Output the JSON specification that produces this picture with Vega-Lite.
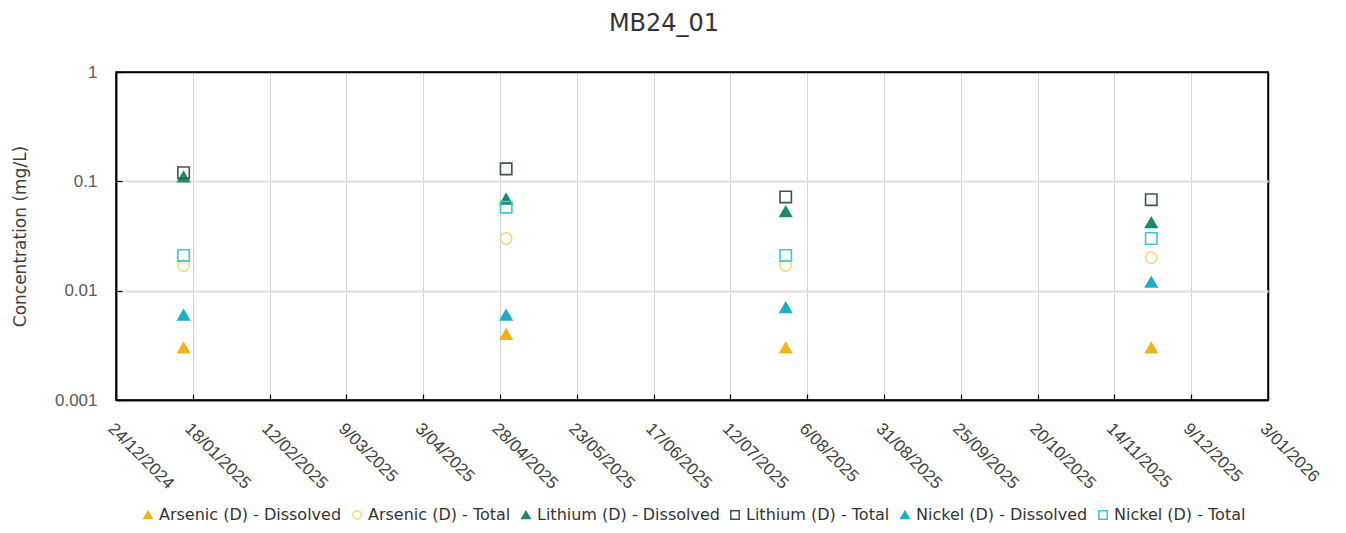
{
  "$schema": "https://vega.github.io/schema/vega-lite/v6.json",
  "autosize": "none",
  "width": 1152,
  "height": 328,
  "padding": {"left": 116, "top": 72, "right": 78, "bottom": 133},
  "background": "white",
  "title": {"text": "MB24_01", "fontSize": 24, "fontWeight": "normal", "font": "DejaVu Sans", "color": "#333333", "anchor": "middle", "frame": "group", "dx": -28, "offset": 27},
  "config": {
    "view": {"stroke": "#000000", "strokeWidth": 1.5},
    "font": "Liberation Sans"
  },
  "data": {
    "values": [
      {"date": "2025-01-15", "series": "Arsenic (D) - Dissolved", "value": 0.003},
      {"date": "2025-01-15", "series": "Arsenic (D) - Total", "value": 0.017},
      {"date": "2025-01-15", "series": "Lithium (D) - Dissolved", "value": 0.11},
      {"date": "2025-01-15", "series": "Lithium (D) - Total", "value": 0.12},
      {"date": "2025-01-15", "series": "Nickel (D) - Dissolved", "value": 0.006},
      {"date": "2025-01-15", "series": "Nickel (D) - Total", "value": 0.021},
      {"date": "2025-04-30", "series": "Arsenic (D) - Dissolved", "value": 0.004},
      {"date": "2025-04-30", "series": "Arsenic (D) - Total", "value": 0.03},
      {"date": "2025-04-30", "series": "Lithium (D) - Dissolved", "value": 0.069},
      {"date": "2025-04-30", "series": "Lithium (D) - Total", "value": 0.13},
      {"date": "2025-04-30", "series": "Nickel (D) - Dissolved", "value": 0.006},
      {"date": "2025-04-30", "series": "Nickel (D) - Total", "value": 0.058},
      {"date": "2025-07-30", "series": "Arsenic (D) - Dissolved", "value": 0.003},
      {"date": "2025-07-30", "series": "Arsenic (D) - Total", "value": 0.017},
      {"date": "2025-07-30", "series": "Lithium (D) - Dissolved", "value": 0.053},
      {"date": "2025-07-30", "series": "Lithium (D) - Total", "value": 0.072},
      {"date": "2025-07-30", "series": "Nickel (D) - Dissolved", "value": 0.007},
      {"date": "2025-07-30", "series": "Nickel (D) - Total", "value": 0.021},
      {"date": "2025-11-26", "series": "Arsenic (D) - Dissolved", "value": 0.003},
      {"date": "2025-11-26", "series": "Arsenic (D) - Total", "value": 0.02},
      {"date": "2025-11-26", "series": "Lithium (D) - Dissolved", "value": 0.042},
      {"date": "2025-11-26", "series": "Lithium (D) - Total", "value": 0.068},
      {"date": "2025-11-26", "series": "Nickel (D) - Dissolved", "value": 0.012},
      {"date": "2025-11-26", "series": "Nickel (D) - Total", "value": 0.03}
    ]
  },
  "mark": {"type": "point", "filled": false, "size": 130, "strokeWidth": 1.6, "opacity": 1},
  "encoding": {
    "x": {
      "field": "date", "type": "temporal",
      "scale": {"type": "utc", "domain": [{"year": 2024, "month": 12, "date": 24, "utc": true}, {"year": 2026, "month": 1, "date": 3, "utc": true}]},
      "axis": {
        "title": null,
        "values": [
          {"year": 2024, "month": 12, "date": 24, "utc": true},
          {"year": 2025, "month": 1, "date": 18, "utc": true},
          {"year": 2025, "month": 2, "date": 12, "utc": true},
          {"year": 2025, "month": 3, "date": 9, "utc": true},
          {"year": 2025, "month": 4, "date": 3, "utc": true},
          {"year": 2025, "month": 4, "date": 28, "utc": true},
          {"year": 2025, "month": 5, "date": 23, "utc": true},
          {"year": 2025, "month": 6, "date": 17, "utc": true},
          {"year": 2025, "month": 7, "date": 12, "utc": true},
          {"year": 2025, "month": 8, "date": 6, "utc": true},
          {"year": 2025, "month": 8, "date": 31, "utc": true},
          {"year": 2025, "month": 9, "date": 25, "utc": true},
          {"year": 2025, "month": 10, "date": 20, "utc": true},
          {"year": 2025, "month": 11, "date": 14, "utc": true},
          {"year": 2025, "month": 12, "date": 9, "utc": true},
          {"year": 2026, "month": 1, "date": 3, "utc": true}
        ],
        "format": "%-d/%m/%Y",
        "labelAngle": 45, "labelAlign": "left", "labelBaseline": "top",
        "labelFont": "Liberation Sans", "labelFontSize": 17, "labelColor": "#404040", "labelPadding": 26,
        "labelOverlap": false, "labelBound": false, "labelFlush": false,
        "grid": true,
        "gridColor": {"condition": {"test": "datum.value <= utc(2024,11,24) || datum.value >= utc(2026,0,3)", "value": "#000000"}, "value": "#d4d4d4"},
        "gridWidth": {"condition": {"test": "datum.value <= utc(2024,11,24) || datum.value >= utc(2026,0,3)", "value": 1.5}, "value": 1},
        "ticks": true, "tickSize": -6, "tickColor": "#000000", "tickWidth": 1.2,
        "domain": true, "domainColor": "#000000", "domainWidth": 1.5
      }
    },
    "y": {
      "field": "value", "type": "quantitative",
      "scale": {"type": "log", "domain": [0.001, 1], "nice": false},
      "axis": {
        "title": "Concentration (mg/L)", "titleFont": "DejaVu Sans", "titleFontSize": 17, "titleFontWeight": "normal", "titleColor": "#404040", "titlePadding": 25,
        "values": [0.001, 0.01, 0.1, 1], "format": "~g",
        "labelFont": "Liberation Sans", "labelFontSize": 17, "labelColor": "#595959", "labelPadding": 25,
        "grid": true,
        "gridColor": {"condition": {"test": "datum.value <= 0.001 || datum.value >= 1", "value": "#000000"}, "value": "#e3e3e3"},
        "gridWidth": {"condition": {"test": "datum.value <= 0.001 || datum.value >= 1", "value": 1.5}, "value": 2.5},
        "ticks": true, "tickSize": -6, "tickColor": "#000000", "tickWidth": 1.2,
        "domain": true, "domainColor": "#000000", "domainWidth": 1.5
      }
    },
    "shape": {
      "field": "series", "type": "nominal",
      "scale": {
        "domain": ["Arsenic (D) - Dissolved", "Arsenic (D) - Total", "Lithium (D) - Dissolved", "Lithium (D) - Total", "Nickel (D) - Dissolved", "Nickel (D) - Total"],
        "range": ["triangle-up", "circle", "triangle-up", "square", "triangle-up", "square"]
      },
      "legend": {
        "title": null, "orient": "none", "direction": "horizontal", "legendX": 24, "legendY": 435,
        "labelFont": "DejaVu Sans", "labelFontSize": 16, "labelColor": "#333333", "labelLimit": 400, "symbolSize": 70, "symbolStrokeWidth": 1.5, "columnPadding": 7, "labelOffset": 3
      }
    },
    "stroke": {
      "field": "series", "type": "nominal",
      "scale": {
        "domain": ["Arsenic (D) - Dissolved", "Arsenic (D) - Total", "Lithium (D) - Dissolved", "Lithium (D) - Total", "Nickel (D) - Dissolved", "Nickel (D) - Total"],
        "range": ["#F2B318", "#F7D77A", "#1B8A68", "#3E5552", "#1AAFC6", "#3CC6DA"]
      },
      "legend": null
    },
    "fill": {
      "field": "series", "type": "nominal",
      "scale": {
        "domain": ["Arsenic (D) - Dissolved", "Arsenic (D) - Total", "Lithium (D) - Dissolved", "Lithium (D) - Total", "Nickel (D) - Dissolved", "Nickel (D) - Total"],
        "range": ["#F2B318", "transparent", "#1B8A68", "transparent", "#1AAFC6", "transparent"]
      },
      "legend": null
    }
  }
}
